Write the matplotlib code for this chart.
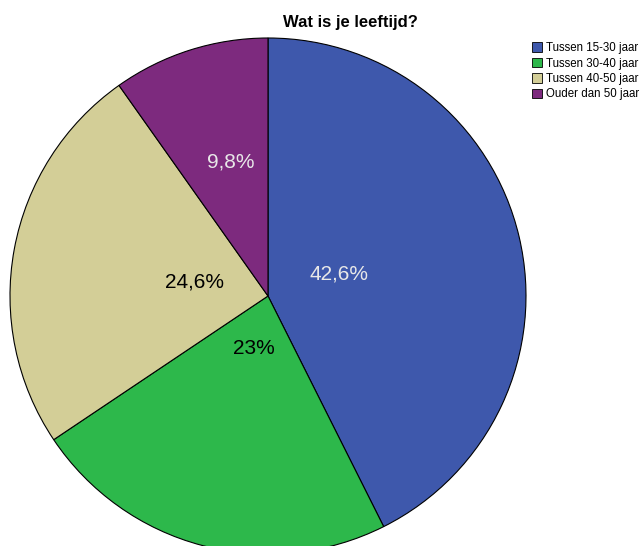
import matplotlib.pyplot as plt
import numpy as np

labels = ['Tussen 15-30 jaar', 'Tussen 30-40 jaar', 'Tussen 40-50 jaar', 'Ouder dan 50 jaar']
values = [42.6, 23.0, 24.6, 9.8]
pct_text = ['42,6%', '23%', '24,6%', '9,8%']
colors = ['#3e58ac', '#2db84b', '#d3ce97', '#7d2a7e']
text_colors = ['#e8e8e8', 'black', 'black', '#e8e8e8']
label_dist = [0.29, 0.21, 0.29, 0.54]
label_shift = [4, 0, 0, -2]  # degrees, SPSS puts labels a bit off the mid angle

plt.rcParams['font.family'] = ['Liberation Sans', 'DejaVu Sans']

fig = plt.figure(figsize=(6.42, 5.46), dpi=100)
ax = fig.add_axes([0, 0, 1, 1])

cx, cy, r = 268, 250, 258
wedges, _ = ax.pie(values, colors=colors, startangle=90, counterclock=False,
                   center=(cx, cy), radius=r,
                   wedgeprops=dict(edgecolor='black', linewidth=0.8))

for w, t, tc, d, s in zip(wedges, pct_text, text_colors, label_dist, label_shift):
    ang = np.deg2rad((w.theta1 + w.theta2) / 2 + s)
    ax.text(cx + d * r * np.cos(ang), cy + d * r * np.sin(ang), t,
            ha='center', va='center', fontsize=15, color=tc)

ax.set_xlim(0, 642)
ax.set_ylim(0, 546)
ax.set_aspect('equal')
ax.axis('off')

fig.text(350 / 642, 1 - 22 / 546, 'Wat is je leeftijd?', ha='center', va='center',
         fontsize=12, fontweight='bold')

leg = fig.legend(wedges, labels, loc='upper left', bbox_to_anchor=(524 / 642, 1 - 34 / 546),
                 frameon=False, fontsize=8.3, handlelength=0.87, handleheight=0.87,
                 handletextpad=0.3, labelspacing=0.3, borderpad=0.2)
for h in leg.legend_handles:
    h.set_linewidth(0.6)

fig.savefig('out.png', dpi=100)
